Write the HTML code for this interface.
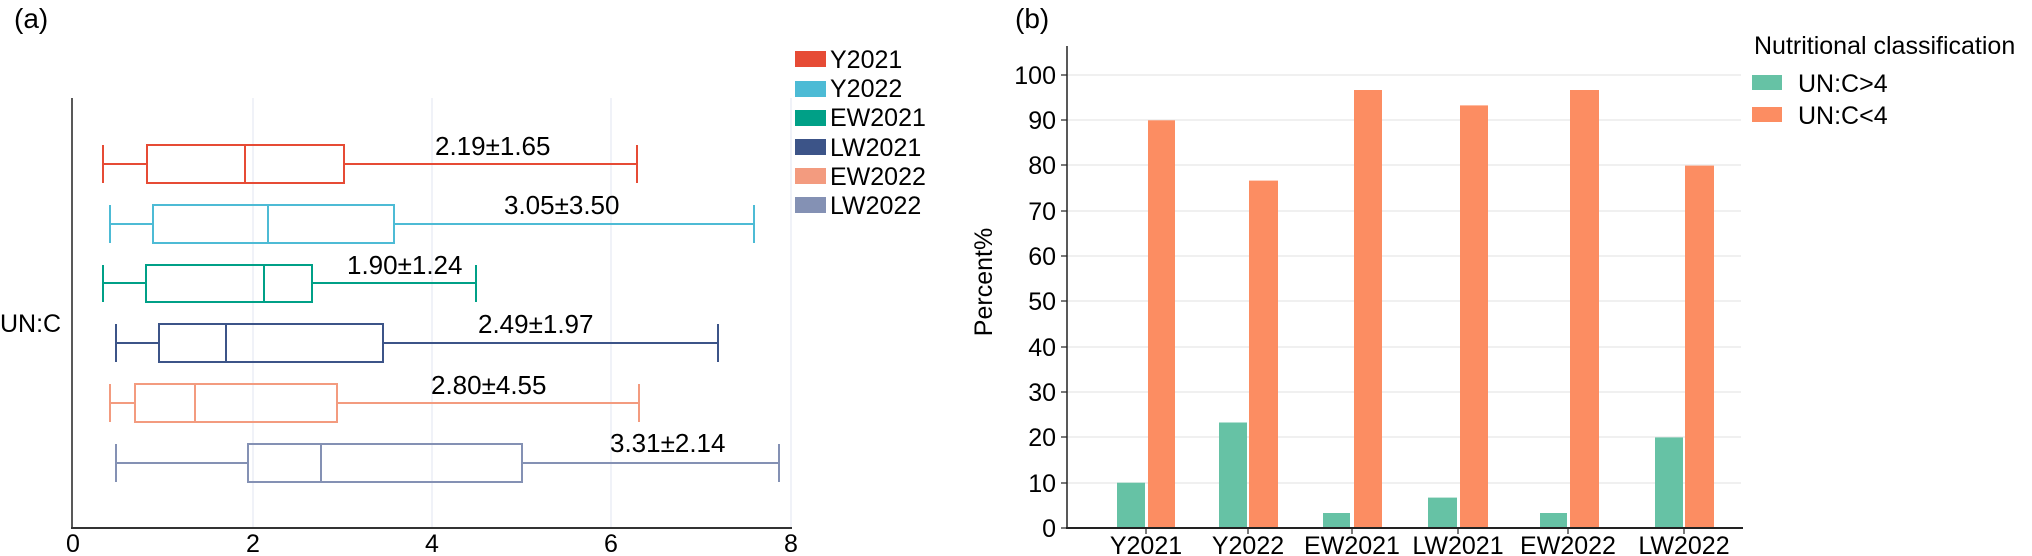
<!DOCTYPE html>
<html><head><meta charset="utf-8"><style>
html,body{margin:0;padding:0;background:#fff;}
svg{display:block;font-family:"Liberation Sans",Arial,sans-serif;}
</style></head><body>
<svg width="2032" height="556" viewBox="0 0 2032 556" xmlns="http://www.w3.org/2000/svg">
<text x="14" y="28" font-size="28">(a)</text>
<g stroke="#e6e8f2" stroke-width="1.2">
<line x1="253" y1="98" x2="253" y2="528"/><line x1="432" y1="98" x2="432" y2="528"/>
<line x1="611" y1="98" x2="611" y2="528"/><line x1="791" y1="98" x2="791" y2="528"/>
</g>
<line x1="72" y1="98" x2="72" y2="529" stroke="#222" stroke-width="1.5"/>
<line x1="71" y1="528" x2="792" y2="528" stroke="#333" stroke-width="2"/>
<g font-size="25" text-anchor="middle">
<text x="73" y="552">0</text><text x="253" y="552">2</text><text x="432" y="552">4</text><text x="611" y="552">6</text><text x="791" y="552">8</text>
</g>
<text x="0" y="332" font-size="25">UN:C</text>
<g fill="none" stroke-width="2">
<g stroke="#e64b35"><line x1="103" y1="145" x2="103" y2="183"/><line x1="637" y1="145" x2="637" y2="183"/><line x1="103" y1="164" x2="147" y2="164"/><line x1="344" y1="164" x2="637" y2="164"/><rect x="147" y="145" width="197" height="38"/><line x1="245" y1="145" x2="245" y2="183"/></g>
<g stroke="#4dbbd5"><line x1="110" y1="205" x2="110" y2="243"/><line x1="754" y1="205" x2="754" y2="243"/><line x1="110" y1="224" x2="153" y2="224"/><line x1="394" y1="224" x2="754" y2="224"/><rect x="153" y="205" width="241" height="38"/><line x1="268" y1="205" x2="268" y2="243"/></g>
<g stroke="#00a087"><line x1="103" y1="265" x2="103" y2="302"/><line x1="476" y1="265" x2="476" y2="302"/><line x1="103" y1="283" x2="146" y2="283"/><line x1="312" y1="283" x2="476" y2="283"/><rect x="146" y="265" width="166" height="37"/><line x1="264" y1="265" x2="264" y2="302"/></g>
<g stroke="#3c5488"><line x1="116" y1="324" x2="116" y2="362"/><line x1="718" y1="324" x2="718" y2="362"/><line x1="116" y1="343" x2="159" y2="343"/><line x1="383" y1="343" x2="718" y2="343"/><rect x="159" y="324" width="224" height="38"/><line x1="226" y1="324" x2="226" y2="362"/></g>
<g stroke="#f39b7f"><line x1="110" y1="384" x2="110" y2="422"/><line x1="639" y1="384" x2="639" y2="422"/><line x1="110" y1="403" x2="135" y2="403"/><line x1="337" y1="403" x2="639" y2="403"/><rect x="135" y="384" width="202" height="38"/><line x1="195" y1="384" x2="195" y2="422"/></g>
<g stroke="#8491b4"><line x1="116" y1="444" x2="116" y2="482"/><line x1="779" y1="444" x2="779" y2="482"/><line x1="116" y1="463" x2="248" y2="463"/><line x1="522" y1="463" x2="779" y2="463"/><rect x="248" y="444" width="274" height="38"/><line x1="321" y1="444" x2="321" y2="482"/></g>
</g>
<g font-size="26">
<text x="435" y="155">2.19±1.65</text>
<text x="504" y="214">3.05±3.50</text>
<text x="347" y="274">1.90±1.24</text>
<text x="478" y="333">2.49±1.97</text>
<text x="431" y="394">2.80±4.55</text>
<text x="610" y="452">3.31±2.14</text>
</g>
<g font-size="25">
<rect x="795" y="51" width="31" height="16" fill="#e64b35"/><text x="830" y="68">Y2021</text>
<rect x="795" y="81" width="31" height="16" fill="#4dbbd5"/><text x="830" y="97">Y2022</text>
<rect x="795" y="110" width="31" height="16" fill="#00a087"/><text x="830" y="126">EW2021</text>
<rect x="795" y="139" width="31" height="16" fill="#3c5488"/><text x="830" y="156">LW2021</text>
<rect x="795" y="168" width="31" height="16" fill="#f39b7f"/><text x="830" y="185">EW2022</text>
<rect x="795" y="197" width="31" height="16" fill="#8491b4"/><text x="830" y="214">LW2022</text>
</g>
<text x="1015" y="28" font-size="28">(b)</text>
<g stroke="#ececec" stroke-width="1.5">
<line x1="1067" y1="483" x2="1741" y2="483"/><line x1="1067" y1="437" x2="1741" y2="437"/><line x1="1067" y1="392" x2="1741" y2="392"/>
<line x1="1067" y1="347" x2="1741" y2="347"/><line x1="1067" y1="301" x2="1741" y2="301"/><line x1="1067" y1="256" x2="1741" y2="256"/>
<line x1="1067" y1="211" x2="1741" y2="211"/><line x1="1067" y1="165" x2="1741" y2="165"/><line x1="1067" y1="120" x2="1741" y2="120"/><line x1="1067" y1="75" x2="1741" y2="75"/>
</g>
<g fill="#66c2a5">
<rect x="1117" y="482.7" width="28" height="45.3"/><rect x="1219" y="422.5" width="28" height="105.5"/><rect x="1323" y="513" width="27" height="15"/>
<rect x="1428" y="497.6" width="29" height="30.4"/><rect x="1540" y="513" width="27" height="15"/><rect x="1655" y="437.4" width="28" height="90.6"/>
</g>
<g fill="#fc8d62">
<rect x="1148" y="120.3" width="27" height="407.7"/><rect x="1249" y="180.6" width="29" height="347.4"/><rect x="1354" y="90" width="28" height="438"/>
<rect x="1460" y="105.4" width="28" height="422.6"/><rect x="1570" y="90" width="29" height="438"/><rect x="1685" y="165.6" width="29" height="362.4"/>
</g>
<line x1="1067" y1="46" x2="1067" y2="529" stroke="#222" stroke-width="1.5"/>
<line x1="1066" y1="528" x2="1743" y2="528" stroke="#222" stroke-width="2"/>
<g stroke="#222" stroke-width="1.2">
<line x1="1061" y1="528" x2="1067" y2="528"/><line x1="1061" y1="483" x2="1067" y2="483"/><line x1="1061" y1="437" x2="1067" y2="437"/><line x1="1061" y1="392" x2="1067" y2="392"/><line x1="1061" y1="347" x2="1067" y2="347"/><line x1="1061" y1="301" x2="1067" y2="301"/><line x1="1061" y1="256" x2="1067" y2="256"/><line x1="1061" y1="211" x2="1067" y2="211"/><line x1="1061" y1="165" x2="1067" y2="165"/><line x1="1061" y1="120" x2="1067" y2="120"/><line x1="1061" y1="75" x2="1067" y2="75"/>
<line x1="1146" y1="528" x2="1146" y2="534"/><line x1="1248" y1="528" x2="1248" y2="534"/><line x1="1352" y1="528" x2="1352" y2="534"/><line x1="1458" y1="528" x2="1458" y2="534"/><line x1="1568" y1="528" x2="1568" y2="534"/><line x1="1684" y1="528" x2="1684" y2="534"/>
</g>
<g font-size="25" text-anchor="end">
<text x="1056" y="537">0</text><text x="1056" y="492">10</text><text x="1056" y="446">20</text><text x="1056" y="401">30</text><text x="1056" y="356">40</text><text x="1056" y="310">50</text><text x="1056" y="265">60</text><text x="1056" y="220">70</text><text x="1056" y="174">80</text><text x="1056" y="129">90</text><text x="1056" y="84">100</text>
</g>
<g font-size="25" text-anchor="middle">
<text x="1146" y="554">Y2021</text><text x="1248" y="554">Y2022</text><text x="1352" y="554">EW2021</text><text x="1458" y="554">LW2021</text><text x="1568" y="554">EW2022</text><text x="1684" y="554">LW2022</text>
</g>
<text transform="translate(992,282) rotate(-90)" font-size="25" text-anchor="middle">Percent%</text>
<text x="1754" y="54" font-size="25">Nutritional classification</text>
<rect x="1752" y="75" width="30" height="15" fill="#66c2a5"/><text x="1798" y="92" font-size="25">UN:C&gt;4</text>
<rect x="1752" y="107" width="30" height="15" fill="#fc8d62"/><text x="1798" y="124" font-size="25">UN:C&lt;4</text>
</svg>
</body></html>
